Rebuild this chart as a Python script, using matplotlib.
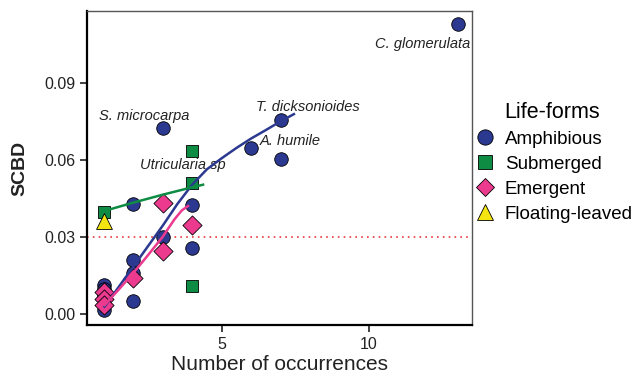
import matplotlib
matplotlib.use("Agg")
import matplotlib.pyplot as plt
from matplotlib.lines import Line2D

plt.rcParams['font.family'] = ['Liberation Sans', 'DejaVu Sans']

# points, by life-form
amph_x = [1, 1, 1, 1, 1, 2, 2, 2, 2, 3, 3, 4, 4, 6, 7, 7, 13]
amph_y = [0.0113, 0.0098, 0.0075, 0.0062, 0.0015,
          0.0429, 0.0212, 0.0162, 0.0053,
          0.0727, 0.0300, 0.0426, 0.0259,
          0.0648, 0.0757, 0.0606, 0.1131]
sub_x = [1, 4, 4, 4]
sub_y = [0.0400, 0.0636, 0.0510, 0.0111]
emer_x = [1, 1, 1, 2, 3, 3, 4]
emer_y = [0.0088, 0.0060, 0.0035, 0.0143, 0.0435, 0.0248, 0.0347]
float_x = [1]
float_y = [0.0362]

# fitted trend curves
amph_fit_x = [1.03, 1.5, 2.0, 2.5, 3.0, 3.5, 4.0, 4.5, 5.0, 5.5, 6.0, 6.5, 7.0, 7.45]
amph_fit_y = [0.0030, 0.0105, 0.0185, 0.0265, 0.0345, 0.0430, 0.0505, 0.0565,
              0.0608, 0.0648, 0.0685, 0.0718, 0.0752, 0.0780]
emer_fit_x = [1.03, 1.5, 2.0, 2.5, 3.0, 3.4, 3.65, 3.86]
emer_fit_y = [0.0036, 0.0095, 0.0160, 0.0230, 0.0302, 0.0370, 0.0405, 0.0422]
sub_fit_x = [1.0, 2.0, 3.0, 4.0, 4.37]
sub_fit_y = [0.0402, 0.0435, 0.0466, 0.0495, 0.0505]

threshold = 0.03

# species labels
labels = ['S. microcarpa', 'Utricularia sp', 'T. dicksonioides', 'A. humile', 'C. glomerulata']
label_x = [2.36, 3.68, 7.92, 7.31, 11.8]
label_y = [0.0773, 0.0580, 0.0809, 0.0676, 0.1053]

xticks = [5, 10]
yticks = [0.00, 0.03, 0.06, 0.09]

blue = '#2B3990'
green = '#0E8C44'
pink = '#EC3A8F'
yellow = '#F4E511'

fig = plt.figure(figsize=(6.34, 3.78), dpi=100)
ax = fig.add_axes([0.137, 0.140, 0.608, 0.831])

ax.axhline(threshold, color='#E8383D', linestyle=(0, (1, 2.5)), linewidth=1.2, zorder=1)

ax.scatter(amph_x, amph_y, s=95, marker='o', color=blue, edgecolor='black', linewidth=0.6, zorder=3)
ax.scatter(sub_x, sub_y, s=80, marker='s', color=green, edgecolor='black', linewidth=0.6, zorder=3)
ax.scatter(emer_x, emer_y, s=95, marker='D', color=pink, edgecolor='black', linewidth=0.6, zorder=3)
ax.scatter(float_x, float_y, s=130, marker='^', color=yellow, edgecolor='black', linewidth=0.6, zorder=3)

ax.plot(amph_fit_x, amph_fit_y, color=blue, linewidth=1.8, zorder=4)
ax.plot(emer_fit_x, emer_fit_y, color=pink, linewidth=1.8, zorder=4)
ax.plot(sub_fit_x, sub_fit_y, color=green, linewidth=1.8, zorder=4)

for t, x, y in zip(labels, label_x, label_y):
    ax.text(x, y, t, fontsize=10.5, style='italic', ha='center', va='center', color='#222222')

ax.set_xlim(0.43, 13.5)
ax.set_ylim(-0.0042, 0.1182)
ax.set_xticks(xticks)
ax.set_yticks(yticks)
ax.set_yticklabels(['%.2f' % v for v in yticks])
ax.tick_params(labelsize=11.5, length=5, width=1.2, colors='#222222')

for side in ['left', 'bottom']:
    ax.spines[side].set_linewidth(1.6)
    ax.spines[side].set_color('black')
for side in ['top', 'right']:
    ax.spines[side].set_linewidth(1.0)
    ax.spines[side].set_color('#555555')

ax.set_xlabel('Number of occurrences', fontsize=15, color='#222222', labelpad=2)
ax.set_ylabel('SCBD', fontsize=14, fontweight='bold', color='#222222', labelpad=11)

handles = [
    Line2D([], [], linestyle='none', marker='o', markersize=11, markerfacecolor=blue, markeredgecolor='black', markeredgewidth=0.6),
    Line2D([], [], linestyle='none', marker='s', markersize=10, markerfacecolor=green, markeredgecolor='black', markeredgewidth=0.6),
    Line2D([], [], linestyle='none', marker='D', markersize=9.5, markerfacecolor=pink, markeredgecolor='black', markeredgewidth=0.6),
    Line2D([], [], linestyle='none', marker='^', markersize=12, markerfacecolor=yellow, markeredgecolor='black', markeredgewidth=0.6),
]
leg = fig.legend(handles, ['Amphibious', 'Submerged', 'Emergent', 'Floating-leaved'],
                 title='Life-forms', loc='upper left', bbox_to_anchor=(0.722, 0.765),
                 frameon=False, fontsize=13.5, title_fontsize=15.5,
                 handletextpad=0.3, labelspacing=0.42, handlelength=1.5, borderpad=0.2)

fig.savefig('out.png', dpi=100)
